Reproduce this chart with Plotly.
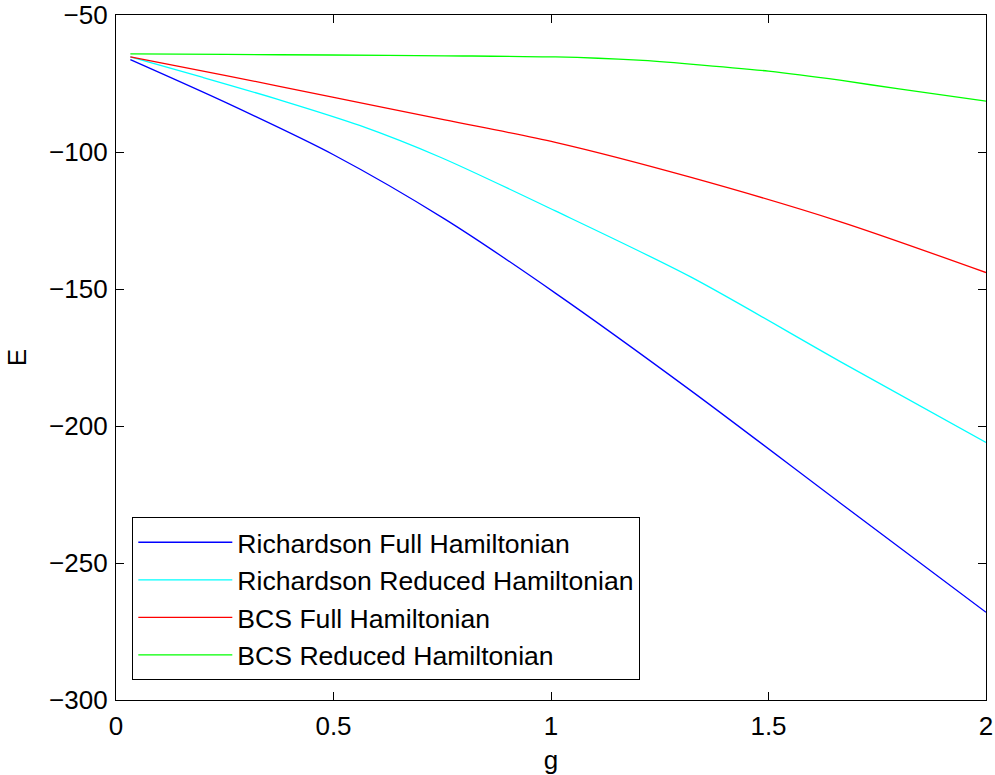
import plotly.graph_objects as go

# Data
g_blue = [0.033, 0.253, 0.5, 0.756, 1.01, 1.32, 1.664, 2.0]
g_cyan = [0.033, 0.2, 0.383, 0.56, 0.747, 1.01, 1.32, 1.664, 2.0]
g_red = [0.033, 0.253, 0.492, 0.756, 1.01, 1.32, 1.664, 2.0]
g_green = [0.033, 0.253, 0.492, 0.756, 1.01, 1.2, 1.32, 1.5, 1.664, 1.8, 2.0]

rich_full = [-66.3, -82.0, -101.0, -124.5, -151.5, -186.9, -228.0, -268.0]
rich_red = [-65.3, -72.8, -81.3, -90.3, -102.0, -121.5, -145.5, -176.4, -206.0]
bcs_full = [-65.3, -72.1, -79.8, -88.3, -96.5, -109.2, -125.4, -144.0]
bcs_red = [-64.2, -64.4, -64.6, -64.9, -65.3, -66.5, -67.9, -70.5, -73.8, -77.0, -81.4]

series_names = ["Richardson Full Hamiltonian", "Richardson Reduced Hamiltonian",
                "BCS Full Hamiltonian", "BCS Reduced Hamiltonian"]
series_x = [g_blue, g_cyan, g_red, g_green]
series_vals = [rich_full, rich_red, bcs_full, bcs_red]
series_colors = ["#0000FF", "#00FFFF", "#FF0000", "#00FF00"]

x_ticks = [0, 0.5, 1, 1.5, 2]
x_tick_labels = ["0", "0.5", "1", "1.5", "2"]
y_ticks = [-300, -250, -200, -150, -100, -50]

FONT = "Liberation Sans, Arial, Helvetica, sans-serif"
FS = 26
FS_LEG = 26.6

fig = go.Figure()
for name, xs, vals, col in zip(series_names, series_x, series_vals, series_colors):
    fig.add_trace(go.Scatter(x=xs, y=vals, mode="lines", name=name,
                             line=dict(color=col, width=1.3, shape="spline", smoothing=0.8)))

axis_common = dict(showline=True, linecolor="black", linewidth=1.3, mirror="ticks",
                   ticks="inside", ticklen=8, tickwidth=1.3, tickcolor="black",
                   showgrid=False, zeroline=False, ticklabeloverflow="allow",
                   automargin=False,
                   tickfont=dict(family=FONT, size=FS, color="black"))

fig.update_xaxes(range=[0, 2], tickvals=x_ticks, ticktext=x_tick_labels, ticklabelstandoff=3,
                 title=dict(text="g", font=dict(family=FONT, size=FS, color="black"), standoff=16),
                 **axis_common)
fig.update_yaxes(range=[-300, -50], tickvals=y_ticks, ticklabelstandoff=2,
                 title=dict(text="E", font=dict(family=FONT, size=FS, color="black"), standoff=14),
                 **axis_common)

fig.update_layout(
    width=995, height=775,
    margin=dict(l=116, r=9, t=15, b=75),
    paper_bgcolor="white", plot_bgcolor="white",
    font=dict(family=FONT, size=FS, color="black"),
    showlegend=True,
    legend=dict(x=0.0184, y=0.029, xanchor="left", yanchor="bottom",
                bgcolor="white", bordercolor="black", borderwidth=1.3,
                font=dict(family=FONT, size=FS_LEG, color="black"),
                itemwidth=94),
)

fig.write_html("out.html", config={"displayModeBar": False},
               post_script="document.body.style.margin='0';document.body.style.overflow='hidden';")
